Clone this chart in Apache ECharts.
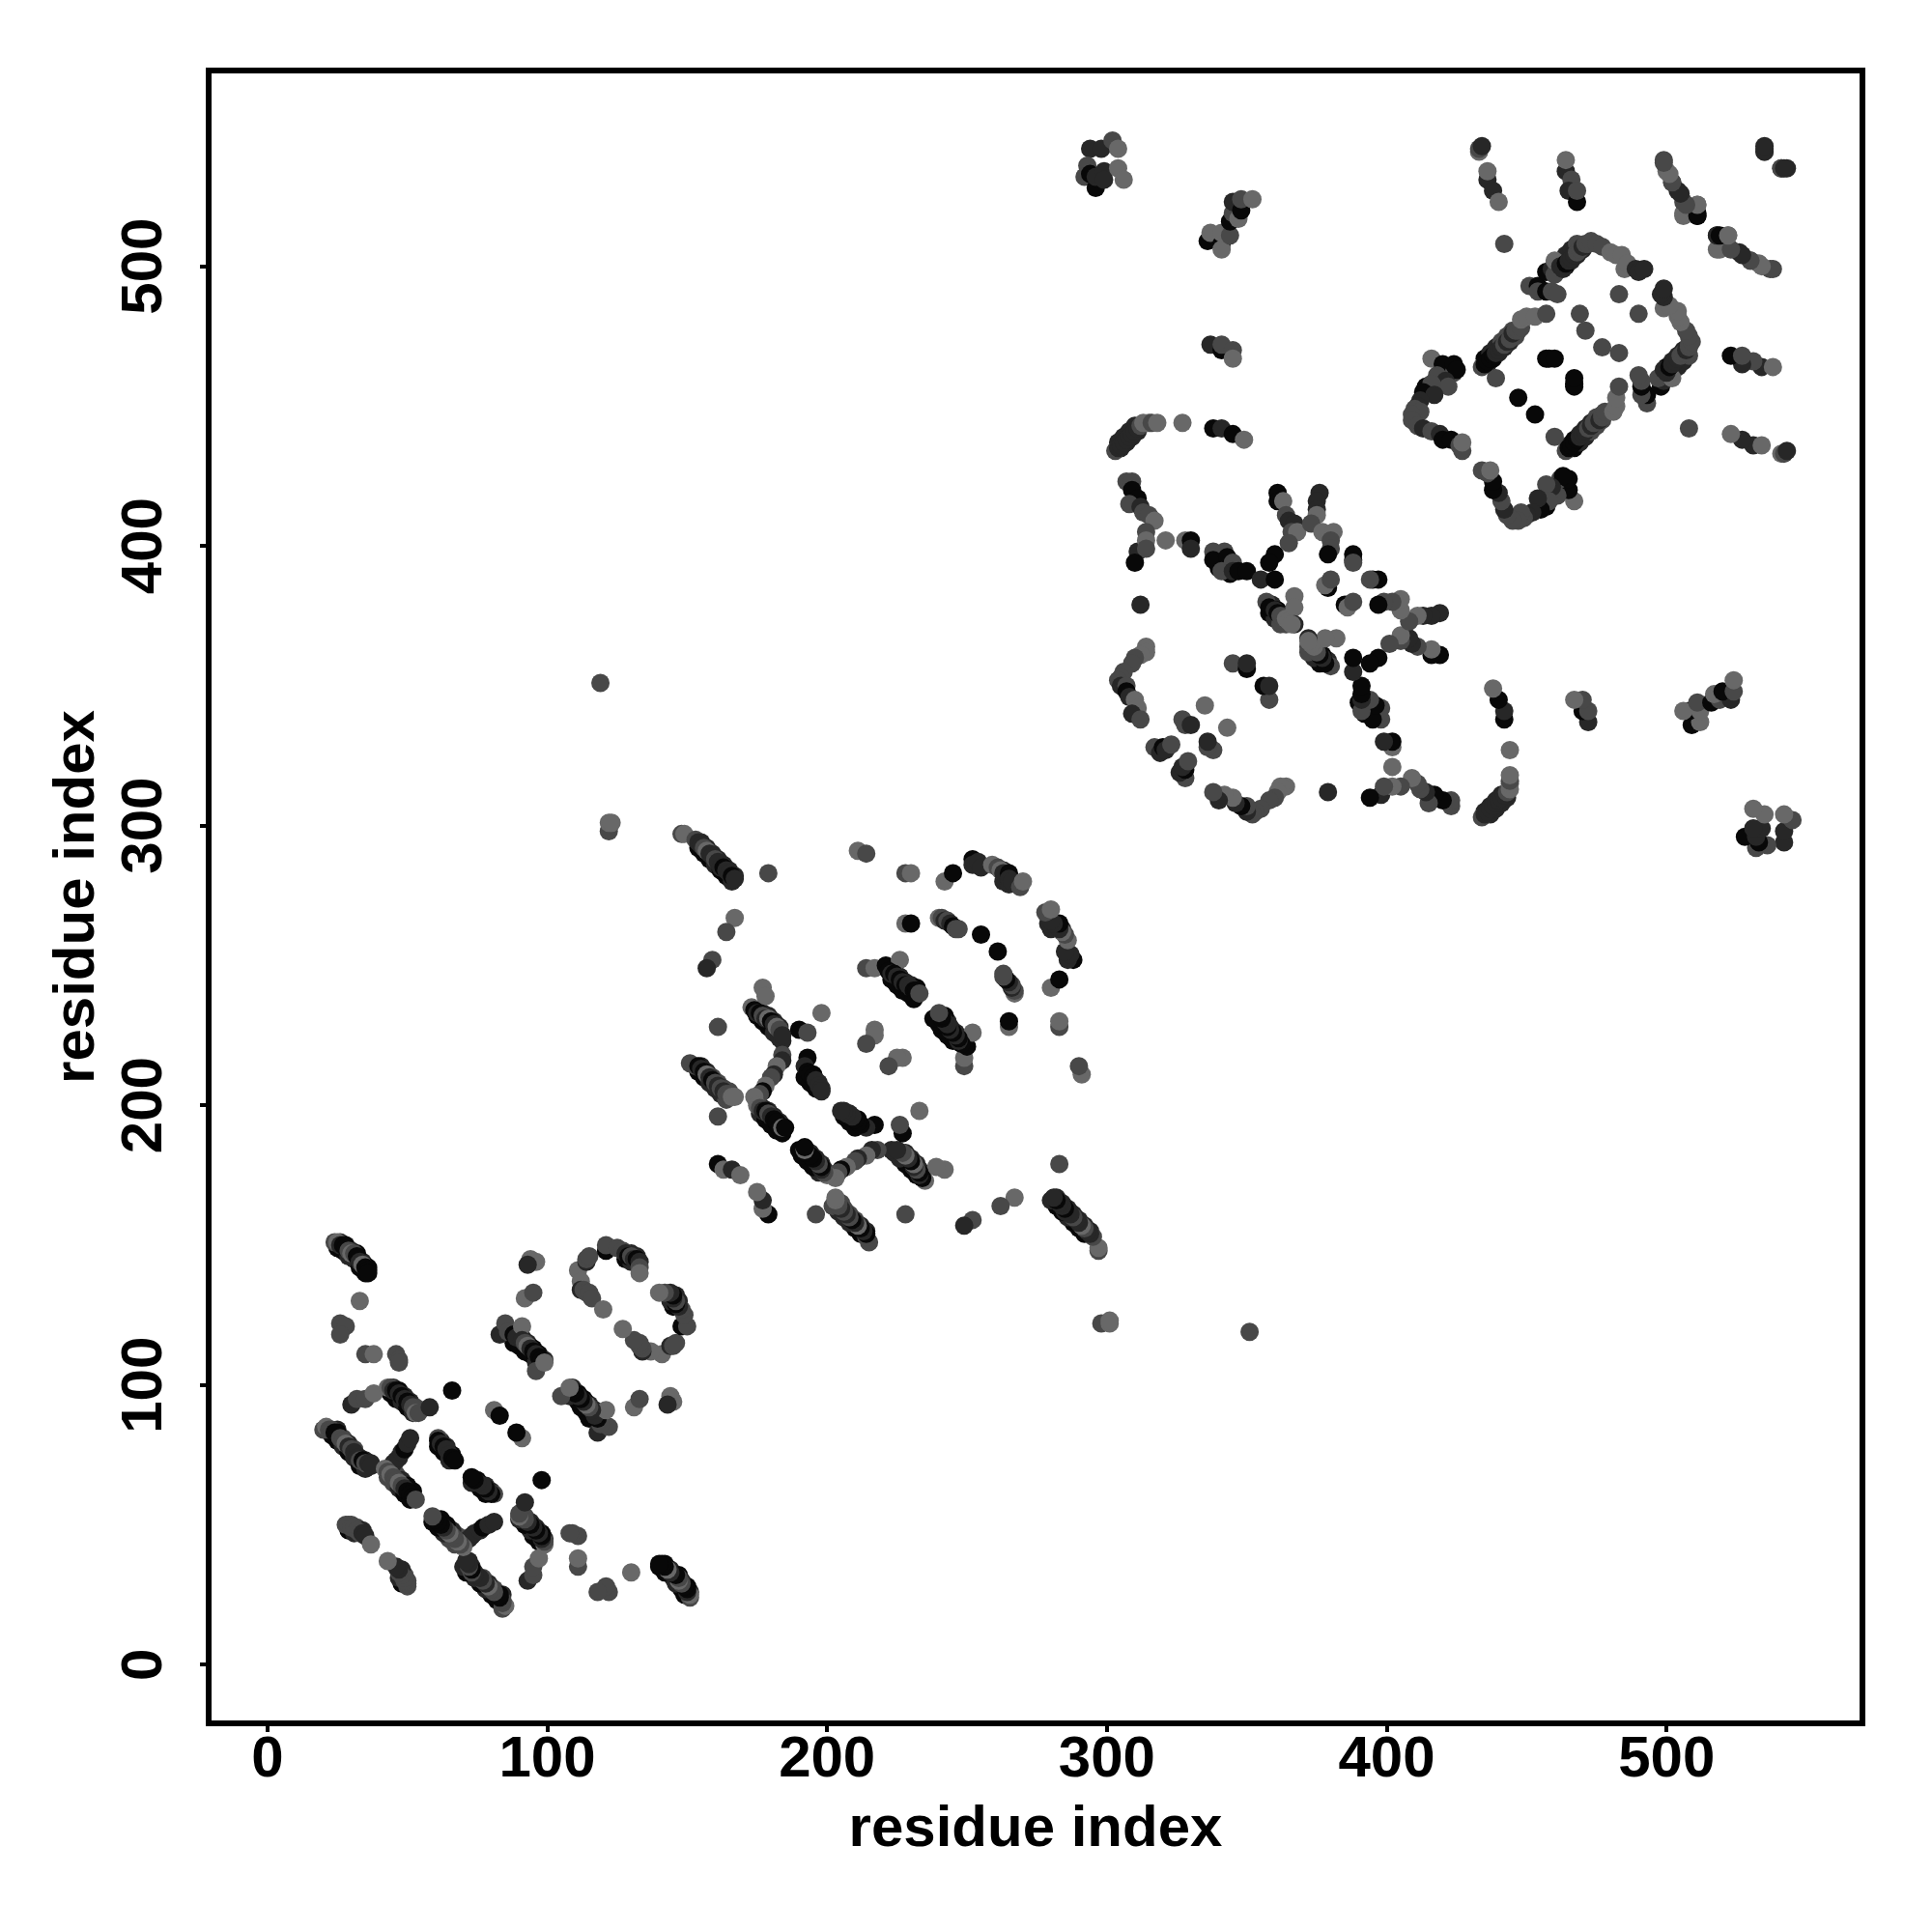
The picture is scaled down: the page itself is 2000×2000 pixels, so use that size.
<!DOCTYPE html>
<html>
<head>
<meta charset="utf-8">
<style>html,body{margin:0;padding:0;background:#fff}#c{width:2000px;height:2000px}</style>
<script src="https://cdn.jsdelivr.net/npm/echarts@6/dist/echarts.min.js"></script>
</head>
<body>
<div id="c"></div>
<script>
// Contacts as [residue i, residue j, shade]; shade 0 lightest .. 3 darkest.
// The map is symmetric: each contact is drawn at (i,j) and (j,i).
const axisTitle = "residue index";
const tickValues = [0, 100, 200, 300, 400, 500];
const shades = ["#686868", "#484848", "#272727", "#080808"];

// Neighbouring contacts that make the dense strands wider; drawn first, underneath.
const flankA = [[26,151,2],[28,150,3],[30,148,2],[32,147,3],[34,144,2],[36,142,3],[25,149,3],[27,148,3],[29,146,2],[31,145,2],[33,142,3],[35,140,3],
[25,84,2],[27,81,1],[29,79,2],[31,77,1],[33,74,2],[35,73,2],[37,72,2],[23,82,3],[25,80,3],[27,78,2],[29,76,3],[31,74,2],[33,71,3],[35,70,2],
[45,99,2],[47,98,3],[49,96,2],[51,94,2],[53,92,1],[44,97,3],[46,95,3],[48,94,2],[50,92,3],[52,90,2],
[44,70,1],[46,68,1],[48,66,2],[50,64,3],[52,62,3],[43,67,1],[45,65,1],[47,63,2],[49,61,3],[51,59,3],
[62,80,2],[64,78,2],[66,75,3],[61,78,3],[63,76,3],[65,73,2],[30,50,1],[32,49,1],[34,48,2],[29,48,3],[31,47,2],
[89,118,2],[91,117,2],[93,115,2],[95,113,3],[97,111,3],[99,109,2],[88,115,3],[90,114,3],[92,112,3],[94,111,3],[96,108,2],
[130,147,2],[132,146,2],[128,145,3],[130,144,2]];
const flankB = [[155,294,2],[157,292,2],[159,290,2],[161,288,2],[163,286,2],[165,284,2],[167,282,2],[154,292,3],[156,290,3],[158,288,3],[160,286,2],[162,284,3],[164,282,3],[166,280,2],
[175,234,2],[177,233,2],[179,232,2],[181,230,2],[183,228,2],[175,232,3],[177,230,3],[179,228,3],[181,226,2],[183,224,2],
[155,214,2],[157,212,2],[159,210,1],[161,208,1],[163,206,1],[165,205,1],[154,212,3],[156,210,3],[158,208,2],[160,206,2],[162,204,2],[164,202,1],
[177,199,2],[179,198,2],[181,196,2],[183,194,2],[176,197,2],[178,195,3],[180,193,3],[182,191,3],[184,190,3],
[195,211,3],[197,208,2],[192,210,3],[194,208,3],[196,206,3],
[224,248,2],[226,246,2],[228,244,2],[230,243,2],[232,242,3],[223,245,3],[225,243,3],[227,241,3],[229,240,3],[231,238,3],
[263,284,2],[265,282,2],[263,280,2],[265,279,2]];
const flankCD = [[305,435,2],[307,437,2],[309,439,2],[311,441,2],[304,437,2],[306,439,2],[308,441,2],[310,443,2],
[436,465,2],[438,467,3],[440,469,2],[442,471,2],[444,473,2],[446,475,1],[435,467,3],[437,469,2],[439,471,2],[441,473,1],[443,475,1],[445,477,1],
[464,500,3],[466,502,2],[468,504,2],[470,506,2],[462,502,2],[464,504,2],[466,506,2],[468,508,1],
[359,379,2],[361,377,3],[363,375,2],[358,376,3],[360,374,2],[362,372,1],[364,372,1],[340,397,2],[344,393,2],[340,392,3],[344,390,3]];

const domainA1 = [[24,151,1],[25,151,0],[26,150,2],[27,150,3],[28,149,3],[29,148,1],[30,147,0],[31,147,1],[32,146,3],[33,144,2],[34,143,0],[35,142,3],[36,141,3],[36,140,3],
[33,130,0],[26,122,1],[28,121,1],[26,118,1],[35,111,1],[38,111,0],[46,111,1],[47,109,1],[47,108,1],
[30,93,2],[32,95,1],[35,95,1],[38,97,0],
[43,99,0],[44,99,1],[45,98,2],[46,98,3],[47,97,2],[48,96,3],[49,95,2],[50,94,3],[51,93,2],[52,92,1],[53,90,0],[54,90,1],[58,92,2],[66,98,3],
[81,91,0],[83,89,3]];
const domainA2 = [[20,84,1],[21,85,0],[22,84,1],[23,84,1],[24,83,3],[25,83,3],[26,81,1],[27,80,1],[28,79,0],[29,78,2],[30,77,1],[31,76,2],[32,74,2],[33,73,1],[34,73,3],[35,72,1],[36,72,2],[37,71,2],
[45,72,2],[46,73,2],[47,74,2],[48,76,2],[49,77,3],[50,79,2],[51,81,2],
[42,70,0],[43,69,1],[44,68,0],[45,67,1],[46,66,1],[47,65,0],[48,64,1],[49,63,2],[50,62,3],[51,61,3],[52,60,3],[53,59,1],
[61,81,1],[61,80,3],[62,79,2],[63,78,3],[64,77,2],[65,75,2],[66,74,3],[67,73,3],
[28,50,1],[29,50,1],[30,49,1],[31,49,1],[32,48,1],[33,47,1],[34,47,2],[35,46,2],[37,43,0]];
const domainA3 = [[94,145,0],[96,144,0],[93,143,2],[92,131,0],[95,133,1],
[83,118,2],[85,122,1],[86,119,1],[88,118,3],[89,117,2],[91,121,0],[91,116,2],[92,115,1],[93,114,0],[94,113,2],[95,112,3],[96,111,2],[97,110,3],[98,109,3],[96,105,1],[99,108,0],
[111,141,0],[114,144,2],[114,145,1],[115,146,1],[121,148,3],[121,150,1],[125,149,1],[127,148,1],[128,147,2],[129,146,3],[130,146,1],[131,145,2],[132,145,3],[133,144,2],[133,142,1],[133,140,0],
[112,137,0],[112,134,2],[113,134,1],[114,133,1],[115,133,1],[116,131,1],[120,127,0]];
const bridgeLinks = [[119,351,1],[122,298,1],[122,301,0],[123,301,0]];
const domainB1 = [[148,297,1],[149,297,0],[153,295,1],[154,294,2],[155,293,2],[156,292,1],[157,291,0],[158,290,2],[159,289,2],[160,288,1],[161,287,2],[162,285,2],[163,285,3],[164,284,2],[165,283,2],[166,282,3],[167,281,2],
[179,283,1],[167,267,0],[164,262,1],[159,252,1],[157,249,2],[177,242,0],[178,239,0],
[173,235,0],[174,234,3],[175,233,2],[176,233,3],[177,232,1],[178,231,2],[179,231,0],[180,230,3],[181,229,2],[182,228,0],[184,223,2],[183,227,1],[184,225,2],
[190,227,3],[193,226,1],[198,233,0],[161,228,1],
[151,215,1],[153,214,1],[154,214,3],[155,213,2],[156,212,3],[157,211,0],[158,210,2],[159,209,3],[160,208,1],[161,207,2],[162,206,1],[163,205,2],[164,204,1],[165,204,1],[166,203,0],[167,203,0],
[161,196,1],[161,179,3],[163,177,0],[166,177,2],[169,175,0]];
const domainB2 = [[184,218,1],[184,216,2],[182,214,0],[181,211,2],[180,210,1],[178,207,0],[177,205,3],[176,204,1],[174,203,0],
[175,200,0],[176,199,1],[177,198,2],[178,198,3],[179,197,1],[180,196,2],[181,195,3],[182,194,3],[183,192,3],[184,192,0],[185,192,3],
[193,217,3],[192,214,2],[193,212,3],[194,211,3],[195,210,3],[196,209,2],[197,207,2],[198,206,2],[198,205,2],
[217,227,0],[217,225,0],[214,222,1]];
const domainB3 = [[211,291,0],[214,290,1],[228,283,1],[230,283,0],[228,265,0],[230,265,3],[242,280,0],[245,283,3],
[252,288,3],[252,286,2],[254,287,2],[255,285,2],[259,286,0],[261,285,1],[262,284,0],[263,283,2],[265,283,3],[265,281,2],[266,280,2],[269,278,1],[270,280,0],
[240,267,0],[241,267,1],[242,266,2],[243,266,1],[244,265,2],[245,264,3],[246,263,1],[247,263,1],[255,261,3],
[214,249,1],[217,249,0],[221,250,3],[226,252,0],[222,248,3],[223,247,2],[224,247,3],[225,246,2],[226,245,3],[227,244,2],[228,243,3],[229,243,2],[230,242,2],[231,241,3],[232,241,3],[233,240,1]];
const domainC1 = [[307,423,1],[309,423,1],[309,420,3],[311,417,3],[308,415,1],[312,414,2],[313,412,1],[315,411,1],[317,409,0],[314,405,1],[311,398,2],[314,402,0],[314,399,1],[310,394,3],[312,379,2],
[321,402,0],[328,402,0],[330,402,3],[330,399,2],
[338,398,1],[342,398,1],[338,395,3],[343,396,3],[341,391,1],[345,394,1],[345,391,2],[347,391,3],[350,391,3],
[355,388,2],[360,397,3],[358,394,3],[360,388,3],
[361,419,3],[361,416,3],[363,416,0],[364,411,1],[365,409,2],[367,408,2],[366,405,1],[368,405,0],[365,401,1],
[376,419,2],[375,416,2],[375,413,2],[375,411,0],[373,408,1],[377,405,0],[381,405,0],[380,402,1],[380,399,1],[379,397,3],
[388,397,3],[388,395,3],[388,394,1],[379,385,3],[378,386,0],[380,388,1],
[357,380,1],[358,378,3],[360,377,2],[361,376,3],[362,375,1],[364,374,0],[365,373,0],[367,382,0],[367,378,0],[367,372,2],[366,372,0]];
const domainC2 = [[314,364,0],[314,362,0],[312,361,0],[310,360,1],[309,358,1],[306,355,1],[305,353,1],[304,352,1],[305,350,2],[307,350,1],[307,348,3],[308,346,2],[310,345,0],[311,342,0],[309,340,2],[312,338,1],
[335,343,0],[327,338,1],[328,336,1],[330,336,2],[317,328,1],[319,326,2],[320,328,3],[321,327,2],[323,329,1],
[345,358,1],[350,356,3],[350,358,2]];
const domainC3 = [[294,542,2],[298,542,2],[302,545,1],[304,542,0],[293,536,1],[292,532,1],[294,533,3],[296,528,3],[296,532,2],[299,534,2],[299,531,2],[304,535,0],[306,531,0],
[336,509,3],[337,512,0],[341,508,3],[341,506,0],[341,512,0],[344,511,1],[344,516,3],[345,519,1],[347,517,0],[345,523,2],[348,520,3],[348,524,1],[352,524,0],
[337,472,2],[341,470,3],[341,472,1],[345,470,1],[345,467,0],
[303,434,1],[304,435,2],[305,436,2],[306,437,2],[307,438,2],[308,439,2],[309,440,2],[310,441,2],[311,442,2],[312,443,1],[313,444,0],[315,444,0],[316,444,1],[318,444,0],[327,444,0],
[338,442,3],[341,442,2],[345,440,3],[349,438,0]];
const domainD1 = [[433,541,0],[433,542,1],[434,543,2],[436,531,2],[436,534,0],[438,527,2],[440,523,0],[442,508,1],
[464,534,2],[464,538,0],[466,531,1],[465,527,2],[468,523,3],[468,527,1],
[499,538,1],[500,534,0],[502,530,1],[504,527,2],[506,519,0],[506,523,1],[511,518,2],[511,519,3],[511,522,0],
[518,506,0],[518,511,3],[522,511,0],[522,507,1],[526,505,2],[530,502,1],[533,501,0],[537,499,1],
[535,541,1],[535,542,2],[541,535,2],[543,535,2]];
const domainD2 = [[439,460,1],[434,464,1],[435,465,3],[436,466,3],[437,467,3],[438,468,3],[439,469,2],[440,470,2],[441,471,2],[442,472,1],[443,473,2],[444,474,1],[445,476,2],[446,477,1],[447,477,1],[448,478,1],
[448,481,0],[450,482,0],[453,482,0],[457,483,1],
[451,493,1],[454,493,3],[454,491,1],[457,491,3],[459,491,1],[461,490,1],[457,498,3],[459,499,2],[460,497,1],[460,502,0],[462,500,2],[463,499,2],[464,501,3],[465,502,2],[466,503,2],[467,504,2],[468,505,1],[469,506,1],[470,507,2],[471,508,1],[472,508,1],[473,509,1],
[475,508,1],[477,507,1],[480,505,0],[482,504,0],[485,499,0],[484,504,0],[486,501,0],[489,499,2],[490,498,2],[492,499,2],
[483,490,1],[469,483,1],[471,477,1],[457,467,3],[458,467,3],[460,467,3],[447,453,3]];
const domainD3 = [[416,467,0],[420,465,3],[424,462,1],[424,465,3],[425,463,3],[418,461,1],[421,459,2],[422,457,1],[414,457,3],[416,458,1],[413,455,3],[417,454,2],[412,452,2],[411,450,2],[410,449,1],[412,448,1],[409,447,1],[409,445,1],[411,443,1],[413,442,2],[416,441,1],[419,440,2],[420,438,3],[423,438,3],[426,436,1],[427,434,1],[427,437,0]];

const contacts = [].concat(flankA, flankB, flankCD, domainA1, domainA2, domainA3, bridgeLinks, domainB1, domainB2, domainB3,
  domainC1, domainC2, domainC3, domainD1, domainD2, domainD3);
const points = contacts.map(c => [c[0], c[1], c[2]]).concat(contacts.map(c => [c[1], c[0], c[2]]));

const axisBase = {
  type: "value", min: -21, max: 570, splitLine: {show: false},
  name: axisTitle, nameLocation: "middle",
  nameTextStyle: {fontFamily: "Liberation Sans", fontWeight: "bold", fontSize: 60, color: "#000"},
  axisLine: {show: true, onZero: false, lineStyle: {color: "#000", width: 6}},
  axisTick: {show: true, length: 9, lineStyle: {color: "#000", width: 4}, customValues: tickValues},
};
const labelBase = {show: true, customValues: tickValues, fontFamily: "Liberation Sans", fontWeight: "bold", fontSize: 60, color: "#000", showMinLabel: true, showMaxLabel: true};

const chart = echarts.init(document.getElementById("c"), null, {renderer: "canvas"});
chart.setOption({
  animation: false,
  backgroundColor: "#fff",
  grid: {left: 216, right: 72, top: 73, bottom: 216, show: true, borderColor: "#000", borderWidth: 6, backgroundColor: "#fff"},
  xAxis: Object.assign({}, axisBase, {nameGap: 80, axisLabel: Object.assign({}, labelBase, {margin: 8})}),
  yAxis: Object.assign({}, axisBase, {nameGap: 106, axisLabel: Object.assign({}, labelBase, {rotate: 90, margin: 36})}),
  series: [{
    type: "scatter", silent: true, symbol: "circle", symbolSize: 19, large: false, progressive: 0,
    data: points, encode: {x: 0, y: 1},
    itemStyle: {opacity: 1, color: p => shades[p.value[2]]}
  }]
});
</script>
</body>
</html>
